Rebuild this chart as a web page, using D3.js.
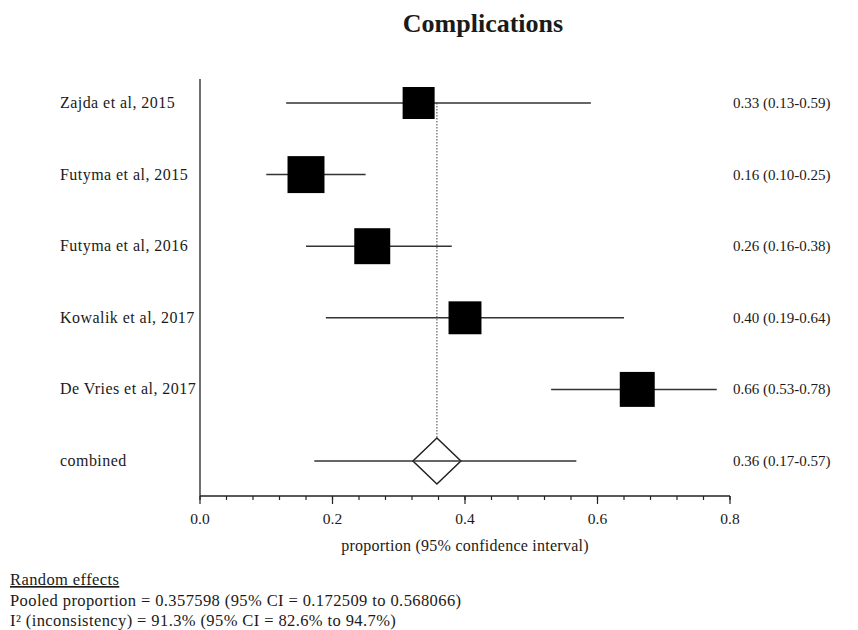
<!DOCTYPE html>
<html>
<head>
<meta charset="utf-8">
<script src="https://cdn.jsdelivr.net/npm/d3@7"></script>
<style>
  body { margin: 0; background: #fff; }
  text { font-family: "Liberation Serif", "DejaVu Serif", serif; fill: #1a1a1a; }
</style>
</head>
<body>
<div id="chart"></div>
<script>
var width = 858,
    height = 630;

// study data
var studies = ["Zajda et al, 2015", "Futyma et al, 2015", "Futyma et al, 2016", "Kowalik et al, 2017", "De Vries et al, 2017"];
var estimates = [0.33, 0.16, 0.26, 0.40, 0.66];
var lower = [0.13, 0.10, 0.16, 0.19, 0.53];
var upper = [0.59, 0.25, 0.38, 0.64, 0.78];
var weights = [17.1, 22.8, 21.6, 18.1, 20.4]; // percent weight, sets box area

var pooled = 0.357598, pooledLower = 0.172509, pooledUpper = 0.568066;
var xTicks = [0.0, 0.2, 0.4, 0.6, 0.8];
var footer = ["Random effects",
              "Pooled proportion = 0.357598 (95% CI = 0.172509 to 0.568066)",
              "I\u00b2 (inconsistency) = 91.3% (95% CI = 82.6% to 94.7%)"];

var rows = studies.concat(["combined"]);

var svg = d3.select("#chart").append("svg").attr("width", width).attr("height", height);

var x = d3.scaleLinear().domain([0, 0.8]).range([200, 730]);
var y = d3.scalePoint().domain(rows).range([103, 461]);
var boxSize = d3.scaleSqrt().domain([0, 25]).range([0, 38.7]);

var axisY = 496;

// title
svg.append("text").attr("x", 483).attr("y", 32).attr("text-anchor", "middle")
    .style("font-size", "26px").style("font-weight", "bold").text("Complications");

// vertical axis line
svg.append("line").attr("x1", x(0)).attr("x2", x(0)).attr("y1", 79).attr("y2", axisY)
    .attr("stroke", "#222").attr("stroke-width", 1.3);

// x axis with major and minor ticks
var xAxis = svg.append("g").attr("transform", "translate(0," + axisY + ")");
xAxis.append("line").attr("x1", x(0)).attr("x2", x(0.8)).attr("stroke", "#222").attr("stroke-width", 1.3);
xAxis.selectAll(".minor").data(d3.range(0, 0.8001, 0.04)).enter().append("line")
    .attr("x1", d => x(d)).attr("x2", d => x(d)).attr("y1", 0).attr("y2", 4)
    .attr("stroke", "#222").attr("stroke-width", 1.2);
xAxis.selectAll(".major").data(xTicks).enter().append("line")
    .attr("x1", d => x(d)).attr("x2", d => x(d)).attr("y1", 0).attr("y2", 8)
    .attr("stroke", "#222").attr("stroke-width", 1.2);
xAxis.selectAll(".tl").data(xTicks).enter().append("text")
    .attr("x", d => x(d)).attr("y", 28).attr("text-anchor", "middle")
    .style("font-size", "15.5px").text(d => d.toFixed(1));

svg.append("text").attr("x", x(0.4)).attr("y", 551).attr("text-anchor", "middle")
    .style("font-size", "16px").style("letter-spacing", "0.25px").text("proportion (95% confidence interval)");

// dotted line at pooled estimate
svg.append("line").attr("x1", x(pooled)).attr("x2", x(pooled))
    .attr("y1", y(rows[0])).attr("y2", y("combined") - 23)
    .attr("stroke", "#444").attr("stroke-width", 1).attr("stroke-dasharray", "1.5,1.5");

// confidence interval lines
svg.selectAll(".ci").data(studies).enter().append("line")
    .attr("x1", (d, i) => x(lower[i])).attr("x2", (d, i) => x(upper[i]))
    .attr("y1", d => y(d)).attr("y2", d => y(d))
    .attr("stroke", "#333").attr("stroke-width", 1.5);

// boxes
svg.selectAll(".box").data(studies).enter().append("rect")
    .attr("x", (d, i) => x(estimates[i]) - boxSize(weights[i]) / 2)
    .attr("y", (d, i) => y(d) - boxSize(weights[i]) / 2)
    .attr("width", (d, i) => boxSize(weights[i]))
    .attr("height", (d, i) => boxSize(weights[i]))
    .attr("fill", "#000");

// combined row
var cy = y("combined");
svg.append("line").attr("x1", x(pooledLower)).attr("x2", x(pooledUpper)).attr("y1", cy).attr("y2", cy)
    .attr("stroke", "#333").attr("stroke-width", 1.5);
var dw = 24, dh = 23;
svg.append("path")
    .attr("d", "M" + (x(pooled) - dw) + "," + cy + "L" + x(pooled) + "," + (cy - dh) +
               "L" + (x(pooled) + dw) + "," + cy + "L" + x(pooled) + "," + (cy + dh) + "Z")
    .attr("fill", "#fff").attr("stroke", "#222").attr("stroke-width", 1.5);
svg.append("line").attr("x1", x(pooled) - dw).attr("x2", x(pooled) + dw).attr("y1", cy).attr("y2", cy)
    .attr("stroke", "#333").attr("stroke-width", 1.5);

// left labels
svg.selectAll(".lab").data(rows).enter().append("text")
    .attr("x", 60).attr("y", d => y(d) + 5).style("font-size", "16px").style("letter-spacing", "0.45px")
    .text(d => d);

// right labels
var est = estimates.concat([pooled]), lo = lower.concat([pooledLower]), hi = upper.concat([pooledUpper]);
svg.selectAll(".rlab").data(rows).enter().append("text")
    .attr("x", 733).attr("y", d => y(d) + 5).style("font-size", "15px")
    .text((d, i) => est[i].toFixed(2) + " (" + lo[i].toFixed(2) + "-" + hi[i].toFixed(2) + ")");

// footer
svg.selectAll(".foot").data(footer).enter().append("text")
    .attr("x", 10).attr("y", (d, i) => 585 + i * 20.5).style("font-size", "16.5px").style("letter-spacing", "0.4px")
    .style("text-decoration", (d, i) => i === 0 ? "underline" : "none")
    .text(d => d);
</script>
</body>
</html>
